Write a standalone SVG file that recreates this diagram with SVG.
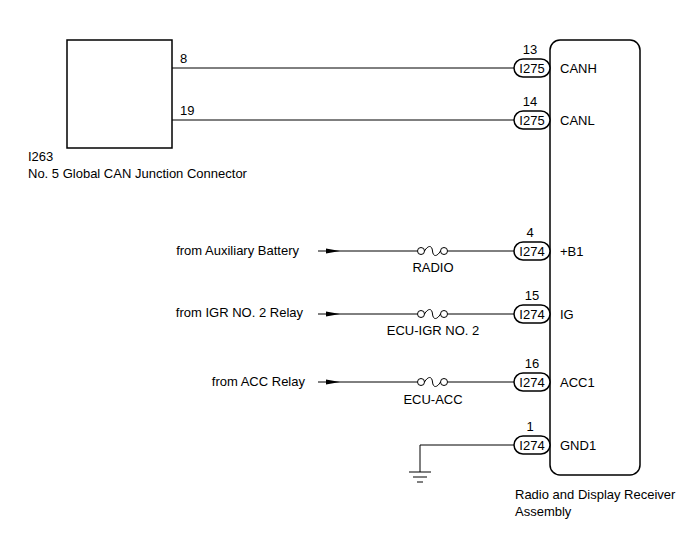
<svg xmlns="http://www.w3.org/2000/svg" width="688" height="560" viewBox="0 0 688 560">
<style>
text{font-family:"Liberation Sans",Arial,sans-serif;font-size:13px;fill:#000}
.w{stroke:#000;stroke-width:1;fill:none}
.b{stroke:#000;stroke-width:1.5;fill:#fff}
.m{text-anchor:middle}
.e{text-anchor:end}
</style>
<defs>
<marker id="a" markerWidth="14" markerHeight="8" refX="14" refY="4" orient="auto" markerUnits="userSpaceOnUse"><path d="M0,1.5 L14,4 L0,6.5 Z" fill="#000"/></marker>
<g id="pill"><rect x="-18" y="-9" width="36" height="18" rx="9" class="b"/></g>
<g id="fuse"><circle cx="-11" cy="0" r="3.5" fill="#fff" stroke="#000"/><circle cx="12" cy="0" r="3.5" fill="#fff" stroke="#000"/><path d="M-7.5,0 C-4,-6 0,-6 0.5,0 C1,6 5,6 8.5,0" class="w"/></g>
</defs>
<g id="connectors">
<line x1="172" y1="68" x2="514" y2="68" class="w"/>
<line x1="172" y1="120" x2="514" y2="120" class="w"/>
<path d="M318,251 L340,251 L417.5,251" class="w" marker-mid="url(#a)"/>
<line x1="447.5" y1="251" x2="514" y2="251" class="w"/>
<path d="M318,314 L340,314 L417.5,314" class="w" marker-mid="url(#a)"/>
<line x1="447.5" y1="314" x2="514" y2="314" class="w"/>
<path d="M318,382 L340,382 L417.5,382" class="w" marker-mid="url(#a)"/>
<line x1="447.5" y1="382" x2="514" y2="382" class="w"/>
<path d="M514,445 L420,445 L420,472" class="w"/>
<line x1="409" y1="472" x2="431" y2="472" class="w" stroke-width="1.5"/>
<line x1="413" y1="477" x2="427" y2="477" class="w"/>
<line x1="417" y1="482" x2="423" y2="482" class="w"/>
</g>
<g id="fuses">
<use href="#fuse" x="432" y="251"/><use href="#fuse" x="432" y="314"/><use href="#fuse" x="432" y="382"/>
</g>
<g id="junction">
<rect x="67" y="40" width="105" height="108" class="b"/>
<text x="180" y="63">8</text>
<text x="180" y="115">19</text>
<text x="28" y="161">I263</text>
<text x="28" y="178">No. 5 Global CAN Junction Connector</text>
</g>
<g id="receiver">
<rect x="550" y="40" width="90" height="435" rx="10" class="b"/>
<text x="515" y="499">Radio and Display Receiver</text>
<text x="515" y="516">Assembly</text>
</g>
<g id="pins">
<use href="#pill" x="532" y="68"/><text x="532" y="73" class="m">I275</text><text x="530" y="54" class="m">13</text><text x="560" y="73">CANH</text>
<use href="#pill" x="532" y="120"/><text x="532" y="125" class="m">I275</text><text x="530" y="106" class="m">14</text><text x="560" y="125">CANL</text>
<use href="#pill" x="532" y="251"/><text x="532" y="256" class="m">I274</text><text x="530" y="237" class="m">4</text><text x="560" y="256">+B1</text>
<use href="#pill" x="532" y="314"/><text x="532" y="319" class="m">I274</text><text x="532" y="300" class="m">15</text><text x="560" y="319">IG</text>
<use href="#pill" x="532" y="382"/><text x="532" y="387" class="m">I274</text><text x="532" y="368" class="m">16</text><text x="560" y="387">ACC1</text>
<use href="#pill" x="532" y="445"/><text x="532" y="450" class="m">I274</text><text x="530" y="431" class="m">1</text><text x="560" y="450">GND1</text>
</g>
<g id="labels">
<text x="299" y="255" class="e">from Auxiliary Battery</text>
<text x="303" y="317" class="e">from IGR NO. 2 Relay</text>
<text x="305" y="386" class="e">from ACC Relay</text>
<text x="433" y="272" class="m">RADIO</text>
<text x="433" y="335" class="m">ECU-IGR NO. 2</text>
<text x="433" y="404" class="m">ECU-ACC</text>
</g>
</svg>
